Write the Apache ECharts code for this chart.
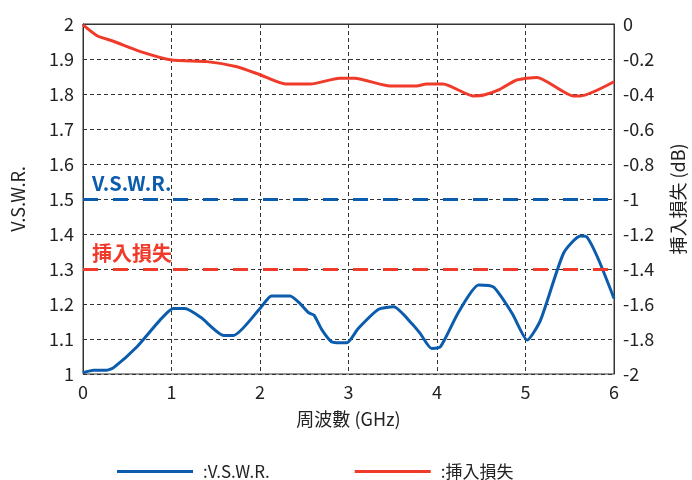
<!DOCTYPE html>
<html><head><meta charset="utf-8">
<script src="https://cdn.jsdelivr.net/npm/echarts@6/dist/echarts.min.js"></script>
<style>html,body{margin:0;padding:0;background:#fff}#c{width:692px;height:480px}</style>
</head><body><div id="c"></div>
<script>
const FONT = '"Noto Sans CJK JP", "Noto Sans", sans-serif';
const xTicks = [0, 1, 2, 3, 4, 5, 6];
const vswrFreq = [0, 0.12, 0.27, 0.35, 0.61, 0.87, 1.02, 1.15, 1.33, 1.59, 1.70, 2.0, 2.13, 2.34, 2.45, 2.55, 2.61, 2.70, 2.81, 2.98, 3.11, 3.34, 3.51, 3.72, 3.81, 3.94, 4.04, 4.24, 4.47, 4.64, 4.85, 5.02, 5.17, 5.43, 5.62, 5.69, 5.82, 6.0];
const vswrValues = [1.004, 1.011, 1.011, 1.019, 1.078, 1.154, 1.187, 1.187, 1.162, 1.110, 1.110, 1.187, 1.223, 1.223, 1.202, 1.175, 1.168, 1.126, 1.092, 1.089, 1.130, 1.185, 1.192, 1.143, 1.116, 1.073, 1.078, 1.175, 1.254, 1.248, 1.173, 1.097, 1.154, 1.345, 1.394, 1.392, 1.330, 1.216];
const lossFreq = [0, 0.16, 0.35, 0.65, 1.0, 1.40, 1.74, 2.0, 2.29, 2.57, 2.90, 3.07, 3.47, 3.77, 3.88, 4.07, 4.41, 4.53, 4.71, 4.90, 5.13, 5.54, 5.62, 6.0];
const lossValues = [-0.005, -0.067, -0.10, -0.158, -0.206, -0.215, -0.244, -0.29, -0.343, -0.343, -0.31, -0.31, -0.354, -0.354, -0.343, -0.343, -0.411, -0.406, -0.373, -0.32, -0.305, -0.411, -0.411, -0.33];
const vswrLimit = 1.5;
const lossLimit = -1.4;
const seriesNames = ['V.S.W.R.', '挿入損失'];
const BLUE = '#0b5cad', RED = '#f03a2a';
const TXT = '#222';

const chart = echarts.init(document.getElementById('c'));
chart.setOption({
  animation: false,
  textStyle: {fontFamily: FONT},
  grid: {left: 83, right: 78, top: 24, bottom: 106, show: true, borderColor: '#333', borderWidth: 1, containLabel: false, outerBoundsMode: 'none'},
  legend: {
    top: 458, left: 112, itemGap: 85, itemWidth: 76, itemHeight: 3, icon: 'rect',
    data: seriesNames,
    formatter: n => ':' + n,
    textStyle: {fontFamily: FONT, fontSize: 17, color: TXT, padding: [0, 0, 0, 5]}
  },
  xAxis: {
    type: 'value', min: 0, max: 6, interval: 1,
    name: '周波數 (GHz)', nameLocation: 'middle', nameGap: 36,
    nameTextStyle: {fontSize: 18, color: TXT, fontFamily: FONT},
    axisLine: {lineStyle: {color: '#333'}}, axisTick: {show: false},
    axisLabel: {fontSize: 18, color: TXT, margin: 9, fontFamily: FONT},
    splitLine: {show: true, lineStyle: {type: [4, 3], color: '#333'}}
  },
  yAxis: [{
    type: 'value', min: 1, max: 2, interval: 0.1,
    name: 'V.S.W.R.', nameLocation: 'middle', nameGap: 56, nameRotate: 90,
    nameTextStyle: {fontSize: 18, color: TXT, fontFamily: FONT},
    axisLine: {show: true, lineStyle: {color: '#333'}}, axisTick: {show: false},
    axisLabel: {fontSize: 18, color: TXT, margin: 9, fontFamily: FONT, formatter: v => String(Math.round(v * 10) / 10)},
    splitLine: {show: true, lineStyle: {type: [4, 3], color: '#333'}}
  }, {
    type: 'value', min: -2, max: 0, interval: 0.2, position: 'right',
    name: '挿入損失 (dB)', nameLocation: 'middle', nameGap: 55, nameRotate: 90,
    nameTextStyle: {fontSize: 18, color: TXT, fontFamily: FONT},
    axisLine: {show: true, lineStyle: {color: '#333'}}, axisTick: {show: false},
    axisLabel: {fontSize: 18, color: TXT, margin: 9, fontFamily: FONT, formatter: v => String(Math.round(v * 10) / 10)},
    splitLine: {show: false}
  }],
  series: [{
    name: seriesNames[0], type: 'line', yAxisIndex: 0, smooth: 0.2, symbol: 'none',
    data: vswrFreq.map((f, i) => [f, vswrValues[i]]),
    lineStyle: {color: BLUE, width: 3}, itemStyle: {color: BLUE},
    markLine: {
      silent: true, symbol: 'none',
      lineStyle: {color: BLUE, width: 3, type: [15, 15]},
      label: {show: true, position: 'insideStartTop', formatter: seriesNames[0], color: BLUE, fontSize: 20, fontWeight: 'bold', fontFamily: FONT, distance: [9, 6]},
      data: [{yAxis: vswrLimit}]
    }
  }, {
    name: seriesNames[1], type: 'line', yAxisIndex: 1, smooth: 0.2, symbol: 'none',
    data: lossFreq.map((f, i) => [f, lossValues[i]]),
    lineStyle: {color: RED, width: 3}, itemStyle: {color: RED},
    markLine: {
      silent: true, symbol: 'none',
      lineStyle: {color: RED, width: 3, type: [15, 15]},
      label: {show: true, position: 'insideStartTop', formatter: seriesNames[1], color: RED, fontSize: 20, fontWeight: 'bold', fontFamily: FONT, distance: [9, 6]},
      data: [{yAxis: lossLimit}]
    }
  }]
});
</script></body></html>
